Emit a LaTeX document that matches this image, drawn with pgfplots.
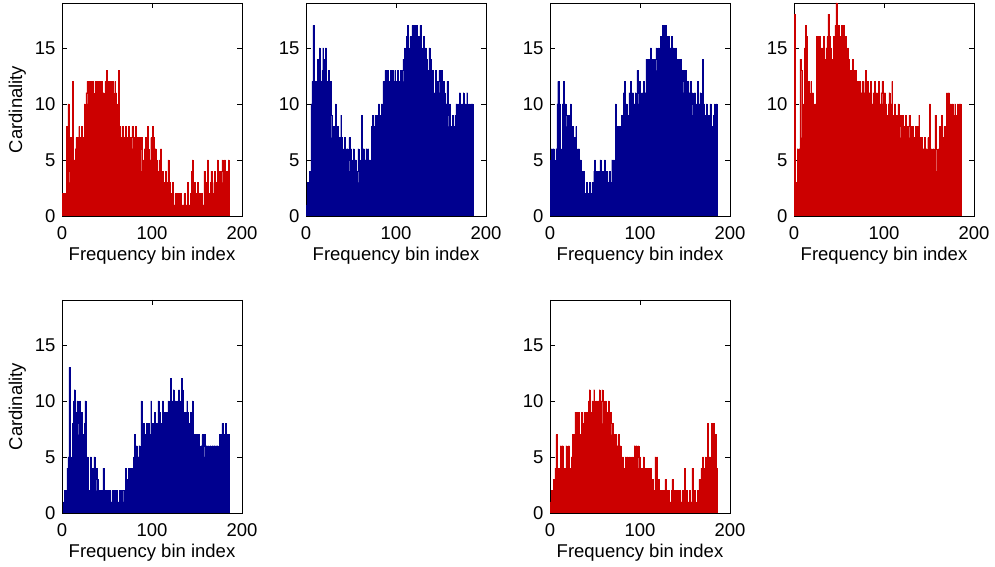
\documentclass[border=0pt]{standalone}
\usepackage{fontspec}
\setmainfont{Liberation Sans}
\usepackage{pgfplots}
\pgfplotsset{compat=1.18}
\usepackage{pgfplotstable}

\definecolor{histred}{RGB}{204,0,0}
\definecolor{histblue}{RGB}{0,0,143}

% one value per frequency bin (bins 1..185), last value repeated to close the step
\pgfplotstableread[row sep=\\,header=false]{
2\\2\\2\\2\\8\\3\\10\\4\\3\\7\\ 5\\12\\3\\5\\6\\7\\7\\5\\8\\7\\
6\\8\\7\\5\\10\\9\\11\\12\\10\\12\\ 11\\12\\8\\12\\11\\10\\12\\9\\11\\12\\
10\\12\\11\\12\\10\\11\\9\\12\\11\\13\\ 12\\11\\12\\10\\12\\12\\11\\9\\12\\11\\
10\\9\\13\\8\\7\\6\\8\\6\\7\\6\\ 8\\7\\6\\8\\7\\5\\7\\8\\6\\7\\
7\\8\\6\\7\\5\\7\\6\\7\\4\\3\\ 5\\6\\7\\7\\8\\6\\4\\5\\7\\5\\
8\\7\\4\\6\\5\\3\\4\\5\\4\\6\\ 3\\4\\3\\2\\4\\3\\2\\5\\2\\3\\
2\\1\\3\\1\\1\\2\\1\\2\\1\\1\\ 2\\2\\1\\1\\1\\2\\1\\1\\1\\3\\
1\\1\\2\\4\\5\\1\\3\\2\\2\\1\\ 3\\1\\2\\1\\2\\1\\1\\4\\1\\2\\
3\\5\\2\\1\\3\\4\\2\\2\\3\\4\\ 3\\2\\5\\1\\4\\2\\4\\5\\3\\2\\
5\\3\\4\\2\\5\\5\\
}\binsA

\pgfplotstableread[row sep=\\,header=false]{
1\\3\\3\\4\\4\\10\\12\\17\\13\\12\\ 12\\10\\14\\12\\15\\11\\12\\13\\15\\12\\
14\\15\\11\\12\\13\\10\\12\\9\\7\\8\\ 7\\8\\10\\7\\8\\7\\6\\7\\9\\7\\
6\\5\\7\\6\\4\\6\\5\\7\\4\\6\\ 5\\3\\6\\4\\5\\3\\4\\6\\3\\5\\
4\\9\\4\\6\\3\\5\\6\\4\\6\\5\\ 5\\4\\8\\9\\8\\8\\9\\8\\9\\8\\
10\\9\\8\\10\\9\\12\\10\\13\\11\\12\\ 13\\12\\10\\13\\12\\13\\11\\12\\13\\10\\
12\\13\\11\\12\\13\\12\\13\\14\\12\\15\\ 14\\16\\17\\15\\14\\16\\15\\17\\16\\14\\
17\\15\\17\\14\\16\\15\\17\\13\\14\\15\\ 16\\13\\15\\14\\12\\13\\15\\13\\14\\12\\
13\\10\\11\\13\\12\\10\\12\\13\\11\\12\\ 13\\10\\12\\11\\9\\10\\12\\9\\8\\10\\
7\\8\\9\\8\\7\\9\\10\\9\\10\\8\\ 11\\10\\9\\10\\11\\8\\10\\9\\11\\10\\
9\\10\\8\\10\\10\\10\\
}\binsB

\pgfplotstableread[row sep=\\,header=false]{
5\\6\\3\\6\\5\\3\\6\\10\\12\\12\\ 10\\6\\2\\10\\12\\9\\10\\9\\8\\9\\
7\\9\\10\\7\\8\\6\\7\\5\\8\\6\\ 5\\6\\4\\5\\4\\3\\4\\1\\2\\1\\
3\\1\\2\\3\\1\\2\\3\\2\\4\\5\\ 3\\4\\3\\4\\3\\5\\2\\4\\3\\4\\
5\\3\\4\\3\\3\\4\\3\\3\\5\\4\\ 5\\3\\10\\8\\7\\8\\6\\8\\8\\9\\
8\\11\\12\\8\\10\\9\\8\\11\\10\\12\\ 10\\11\\9\\10\\11\\10\\13\\11\\10\\12\\
11\\10\\11\\12\\10\\11\\14\\12\\13\\14\\ 13\\15\\14\\13\\14\\13\\14\\15\\13\\14\\
15\\14\\16\\15\\17\\16\\17\\15\\17\\16\\ 15\\16\\14\\15\\16\\14\\15\\13\\14\\15\\
14\\13\\14\\12\\14\\13\\12\\13\\11\\12\\ 13\\11\\12\\10\\11\\12\\10\\11\\9\\10\\
11\\8\\10\\12\\9\\10\\11\\8\\9\\14\\ 10\\8\\9\\10\\8\\9\\8\\10\\9\\8\\
8\\9\\10\\8\\10\\10\\
}\binsC

\pgfplotstableread[row sep=\\,header=false]{
18\\2\\3\\6\\2\\6\\14\\13\\7\\8\\ 10\\15\\17\\16\\10\\12\\11\\10\\12\\10\\
11\\10\\6\\10\\16\\14\\16\\15\\16\\14\\ 15\\14\\16\\13\\14\\15\\16\\18\\17\\16\\
15\\14\\13\\16\\15\\17\\19\\14\\16\\17\\ 15\\16\\17\\14\\17\\15\\16\\13\\14\\15\\
14\\13\\12\\13\\14\\13\\12\\13\\12\\11\\ 12\\11\\12\\10\\11\\12\\10\\11\\12\\13\\
11\\12\\10\\11\\12\\9\\10\\11\\10\\12\\ 9\\11\\10\\12\\9\\10\\11\\12\\10\\9\\
11\\10\\9\\8\\10\\11\\9\\10\\12\\9\\ 8\\10\\9\\8\\9\\10\\8\\9\\7\\8\\
9\\8\\7\\9\\8\\6\\8\\9\\7\\8\\ 6\\8\\7\\5\\8\\7\\8\\6\\9\\7\\
6\\7\\5\\6\\7\\4\\6\\5\\7\\4\\ 10\\4\\6\\5\\6\\5\\9\\6\\4\\5\\
6\\8\\6\\9\\7\\6\\8\\7\\8\\11\\ 9\\11\\8\\10\\9\\10\\9\\8\\10\\9\\
9\\10\\9\\10\\10\\10\\
}\binsD

\pgfplotstableread[row sep=\\,header=false]{
0\\1\\2\\1\\2\\4\\5\\13\\12\\5\\ 2\\8\\10\\11\\8\\9\\10\\8\\7\\10\\
8\\9\\7\\6\\8\\10\\4\\5\\4\\2\\ 2\\5\\4\\3\\4\\5\\3\\4\\2\\3\\
1\\2\\1\\2\\1\\4\\2\\1\\2\\1\\ 2\\1\\2\\1\\1\\2\\1\\2\\1\\1\\
2\\1\\1\\2\\2\\1\\2\\2\\1\\2\\ 4\\3\\2\\4\\3\\4\\4\\3\\4\\5\\
7\\5\\6\\5\\5\\6\\5\\10\\6\\7\\ 8\\7\\6\\8\\7\\8\\6\\7\\10\\7\\
8\\7\\9\\8\\6\\8\\10\\7\\9\\8\\ 8\\10\\7\\9\\8\\9\\8\\10\\8\\9\\
12\\9\\10\\11\\9\\10\\8\\10\\9\\11\\ 10\\9\\12\\11\\9\\8\\9\\8\\10\\9\\
8\\7\\9\\8\\10\\7\\6\\7\\6\\7\\ 6\\7\\6\\5\\6\\7\\6\\7\\5\\6\\
6\\5\\6\\5\\6\\5\\6\\5\\6\\6\\ 5\\6\\6\\5\\7\\7\\6\\8\\7\\7\\
7\\8\\7\\7\\7\\7\\
}\binsE

\pgfplotstableread[row sep=\\,header=false]{
1\\2\\1\\3\\2\\4\\7\\1\\3\\4\\ 2\\6\\5\\6\\2\\4\\3\\6\\5\\2\\
6\\4\\3\\5\\7\\4\\7\\9\\8\\9\\ 7\\9\\6\\7\\9\\8\\7\\9\\7\\8\\
9\\8\\10\\11\\9\\8\\10\\9\\11\\10\\ 9\\10\\8\\10\\11\\9\\10\\11\\8\\10\\
9\\10\\8\\9\\10\\7\\9\\8\\7\\8\\ 7\\6\\7\\5\\6\\7\\4\\6\\5\\4\\
5\\4\\3\\5\\4\\5\\3\\5\\4\\5\\ 3\\5\\4\\6\\3\\6\\5\\6\\4\\5\\
4\\3\\4\\5\\3\\4\\2\\4\\3\\4\\ 3\\4\\2\\3\\2\\1\\5\\3\\5\\2\\
3\\2\\1\\2\\1\\2\\1\\3\\1\\2\\ 1\\2\\1\\1\\2\\3\\1\\2\\1\\2\\
1\\2\\1\\2\\1\\1\\2\\1\\1\\4\\ 1\\2\\1\\1\\2\\1\\1\\4\\1\\2\\
2\\1\\0\\2\\1\\3\\2\\4\\3\\5\\ 4\\3\\5\\4\\8\\3\\5\\4\\5\\8\\
7\\8\\5\\7\\4\\4\\
}\binsF

\pgfplotsset{
  hist/.style={
    scale only axis, width=180pt, height=213pt,
    xmin=0, xmax=200, ymin=0, ymax=19,
    xtick={0,100,200}, ytick={0,5,10,15},
    tick align=inside, major tick length=5pt,
    axis line style={line width=0.7pt},
    every tick/.style={black, line width=0.6pt},
    ticklabel style={font=\fontsize{18.5}{22}\selectfont},
    xticklabel style={yshift=-7pt},
    yticklabel style={xshift=-3pt},
    /pgf/number format/assume math mode=true,
    label style={font=\fontsize{18.5}{22}\selectfont},
    xlabel={Frequency bin index},
    xlabel style={yshift=-1pt},
    ylabel style={yshift=2pt},
  },
  bins/.style={const plot, draw=#1, fill=#1, line width=0.3pt},
}

\begin{document}
\begin{tikzpicture}
\useasboundingbox (0,0) rectangle (995pt,567pt);

\begin{axis}[hist, at={(62pt,351pt)}, anchor=south west, ylabel={Cardinality}]
\addplot[bins=histred] table[x expr=\coordindex+0.5, y index=0]{\binsA} \closedcycle;
\end{axis}

\begin{axis}[hist, at={(306pt,351pt)}, anchor=south west]
\addplot[bins=histblue] table[x expr=\coordindex+0.5, y index=0]{\binsB} \closedcycle;
\end{axis}

\begin{axis}[hist, at={(550pt,351pt)}, anchor=south west]
\addplot[bins=histblue] table[x expr=\coordindex+0.5, y index=0]{\binsC} \closedcycle;
\end{axis}

\begin{axis}[hist, at={(794pt,351pt)}, anchor=south west]
\addplot[bins=histred] table[x expr=\coordindex+0.5, y index=0]{\binsD} \closedcycle;
\end{axis}

\begin{axis}[hist, at={(62pt,54pt)}, anchor=south west, ylabel={Cardinality}]
\addplot[bins=histblue] table[x expr=\coordindex+0.5, y index=0]{\binsE} \closedcycle;
\end{axis}

\begin{axis}[hist, at={(550pt,54pt)}, anchor=south west]
\addplot[bins=histred] table[x expr=\coordindex+0.5, y index=0]{\binsF} \closedcycle;
\end{axis}
\end{tikzpicture}
\end{document}
